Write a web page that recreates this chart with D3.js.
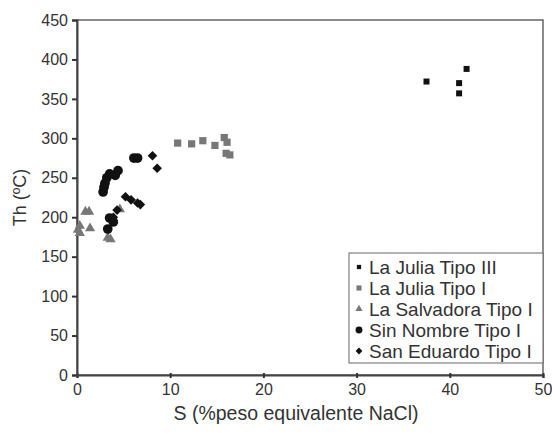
<!DOCTYPE html>
<html>
<head>
<meta charset="utf-8">
<script src="https://cdn.jsdelivr.net/npm/d3@7"></script>
<style>
  body { margin: 0; background: #fff; }
  text { font-family: "Liberation Sans", Arial, sans-serif; fill: #333; }
</style>
</head>
<body>
<script>
// Th vs salinidad
var xTicks = [0, 10, 20, 30, 40, 50],
    yTicks = [0, 50, 100, 150, 200, 250, 300, 350, 400, 450];

var juliaIII = [[37.5, 372], [41.0, 370], [41.0, 357], [41.8, 388]];
var juliaI = [[10.8, 294], [12.3, 293], [13.5, 297], [14.8, 291], [15.8, 301], [16.1, 295], [16.0, 281], [16.4, 279]];
var salvadora = [[0.3, 189], [0.3, 180], [0.1, 184], [0.9, 207], [1.3, 207], [1.4, 186], [3.3, 174], [3.6, 172], [4.6, 210]];
var sinNombre = [[6.1, 275], [6.5, 275], [2.8, 232], [2.9, 238], [3.0, 243], [3.2, 250], [3.5, 255], [4.1, 253], [4.4, 259], [3.5, 199], [3.9, 194], [3.3, 185]];
var sanEduardo = [[8.1, 278], [8.6, 262], [5.2, 226], [5.8, 222], [6.5, 218], [6.8, 216], [4.3, 209], [3.9, 200]];

var series = [
  {name: "La Julia Tipo III", data: juliaIII, type: d3.symbolSquare, size: 36, color: "#111", rot: 0},
  {name: "La Julia Tipo I", data: juliaI, type: d3.symbolSquare, size: 52, color: "#777", rot: 0},
  {name: "La Salvadora Tipo I", data: salvadora, type: d3.symbolTriangle, size: 45, color: "#777", rot: 0},
  {name: "Sin Nombre Tipo I", data: sinNombre, type: d3.symbolCircle, size: 74, color: "#111", rot: 0},
  {name: "San Eduardo Tipo I", data: sanEduardo, type: d3.symbolSquare, size: 46, color: "#111", rot: 45}
];

var width = 552, height = 437,
    margin = {top: 20, right: 9, bottom: 62, left: 77};

var svg = d3.select("body").append("svg")
    .attr("width", width)
    .attr("height", height);

var x = d3.scaleLinear().domain([0, 50]).range([margin.left, width - margin.right]),
    y = d3.scaleLinear().domain([0, 450]).range([height - margin.bottom, margin.top]);

// frame
svg.append("rect")
    .attr("x", x(0))
    .attr("y", y(450))
    .attr("width", x(50) - x(0))
    .attr("height", y(0) - y(450))
    .attr("fill", "none")
    .attr("stroke", "#666")
    .attr("stroke-width", 1.5);

var xAxis = svg.append("g")
    .attr("transform", "translate(0," + y(0) + ")")
    .call(d3.axisBottom(x).tickValues(xTicks).tickSize(3).tickPadding(6));

var yAxis = svg.append("g")
    .attr("transform", "translate(" + x(0) + ",0)")
    .call(d3.axisLeft(y).tickValues(yTicks).tickSize(5).tickPadding(4));

[xAxis, yAxis].forEach(function(a) {
  a.select(".domain").attr("stroke", "#444").attr("stroke-width", 2);
  a.selectAll(".tick line").attr("stroke", "#333").attr("stroke-width", 2);
  a.selectAll("text").style("font-size", "16px").attr("fill", "#333");
});
xAxis.selectAll(".tick line").attr("y1", -2);

svg.append("text")
    .attr("x", 296)
    .attr("y", 420)
    .attr("text-anchor", "middle")
    .style("font-size", "19.5px")
    .text("S (%peso equivalente NaCl)");

svg.append("text")
    .attr("transform", "translate(26," + (y(0) + y(450)) / 2 + ")rotate(-90)")
    .attr("text-anchor", "middle")
    .style("font-size", "18px")
    .text("Th (ºC)");

// points
series.forEach(function(s) {
  var sym = d3.symbol().type(s.type).size(s.size);
  svg.append("g").selectAll("path")
      .data(s.data)
    .enter().append("path")
      .attr("d", sym)
      .attr("fill", s.color)
      .attr("transform", function(d) {
        return "translate(" + x(d[0]) + "," + y(d[1]) + ")rotate(" + s.rot + ")";
      });
});

// legend
var lg = svg.append("g").attr("transform", "translate(349,253)");
lg.append("rect")
    .attr("width", 194)
    .attr("height", 110)
    .attr("fill", "#fff")
    .attr("stroke", "#666")
    .attr("stroke-width", 1);

var item = lg.selectAll(".item")
    .data(series)
  .enter().append("g")
    .attr("class", "item")
    .attr("transform", function(d, i) { return "translate(0," + (14 + i * 21) + ")"; });

item.append("path")
    .attr("transform", function(d) { return "translate(10,0)rotate(" + d.rot + ")"; })
    .attr("d", function(d) { return d3.symbol().type(d.type).size(d.size * 0.5)(); })
    .attr("fill", function(d) { return d.color; });

item.append("text")
    .attr("x", 20)
    .attr("dy", ".35em")
    .style("font-size", "19px")
    .text(function(d) { return d.name; });
</script>
</body>
</html>
